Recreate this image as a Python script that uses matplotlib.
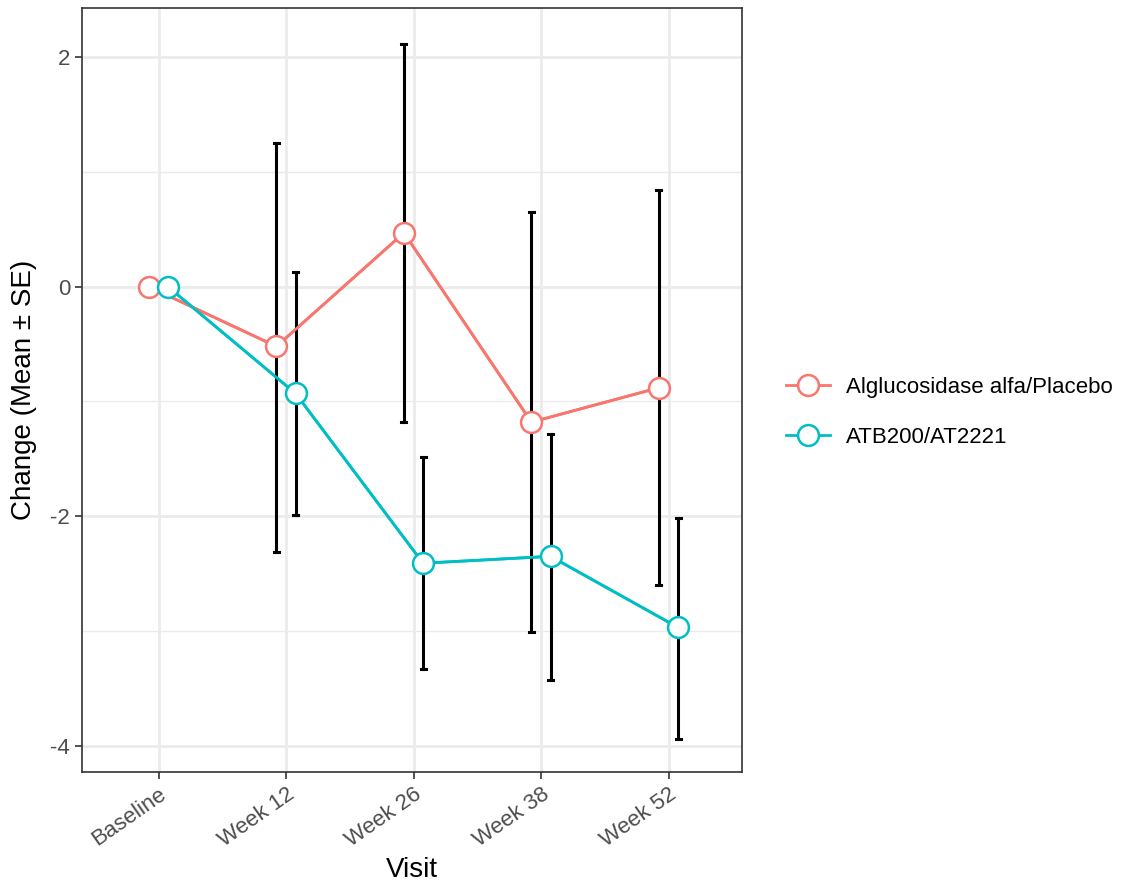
import matplotlib
matplotlib.use("Agg")
import matplotlib.pyplot as plt
from matplotlib.ticker import MultipleLocator

plt.rcParams['font.family'] = ['Liberation Sans', 'DejaVu Sans']
plt.rcParams['axes.unicode_minus'] = False

# data
visits = ['Baseline', 'Week 12', 'Week 26', 'Week 38', 'Week 52']
groups = ['Alglucosidase alfa/Placebo', 'ATB200/AT2221']
colors = ['#F8766D', '#00BFC4']

mean_placebo = [0.0, -0.52, 0.47, -1.18, -0.88]
lo_placebo = [0.0, -2.31, -1.18, -3.01, -2.60]
hi_placebo = [0.0, 1.25, 2.12, 0.65, 0.84]

mean_atb = [0.0, -0.93, -2.41, -2.35, -2.97]
lo_atb = [0.0, -1.99, -3.33, -3.43, -3.94]
hi_atb = [0.0, 0.13, -1.48, -1.28, -2.02]

means = [mean_placebo, mean_atb]
lows = [lo_placebo, lo_atb]
highs = [hi_placebo, hi_atb]
dodge = [-0.075, 0.075]

fig = plt.figure(figsize=(11.28, 8.93), dpi=100)
ax = fig.add_axes([0.0727, 0.1355, 0.5855, 0.8555])

x = list(range(1, len(visits) + 1))
for i, g in enumerate(groups):
    xs = [v + dodge[i] for v in x]
    ax.plot(xs, means[i], color=colors[i], lw=2, zorder=3)
    # error bars (skip baseline, zero width)
    for xv, lo, hi in zip(xs[1:], lows[i][1:], highs[i][1:]):
        ax.plot([xv, xv], [lo, hi], color='black', lw=2.2, zorder=4)
        ax.plot([xv - 0.02, xv + 0.02], [lo, lo], color='black', lw=2.2, zorder=4)
        ax.plot([xv - 0.02, xv + 0.02], [hi, hi], color='black', lw=2.2, zorder=4)
    ax.plot(xs, means[i], 'o', color=colors[i], mfc='white', mec=colors[i],
            ms=15, mew=1.8, zorder=5, label=g, ls='-', lw=2)

ax.set_xlim(0.4, 5.58)
ax.set_ylim(-4.23, 2.43)
ax.set_xticks(x)
ax.set_xticklabels(visits, rotation=35, ha='right', rotation_mode='anchor',
                   fontsize=16, color='#4D4D4D')
ax.yaxis.set_major_locator(MultipleLocator(2))
ax.yaxis.set_minor_locator(MultipleLocator(1))
ax.xaxis.set_minor_locator(plt.NullLocator())
ax.tick_params(axis='y', labelsize=16, labelcolor='#4D4D4D', colors='#333333',
               length=5, width=1.2)
ax.tick_params(axis='x', colors='#333333', length=5, width=1.2, labelcolor='#4D4D4D')
ax.tick_params(axis='y', which='minor', length=0)
ax.grid(which='major', color='#EBEBEB', lw=2, zorder=0)
ax.grid(which='minor', axis='y', color='#EBEBEB', lw=1, zorder=0)
ax.set_axisbelow(True)
for s in ax.spines.values():
    s.set_color('#333333')
    s.set_linewidth(1.2)

ax.set_xlabel('Visit', fontsize=20, labelpad=4)
ax.set_ylabel('Change (Mean ± SE)', fontsize=20, labelpad=10)

leg = ax.legend(loc='center left', bbox_to_anchor=(1.035, 0.471), frameon=False,
                fontsize=16, handlelength=2.0, labelspacing=1.3, handletextpad=0.7)

fig.savefig('out.png', dpi=100)
